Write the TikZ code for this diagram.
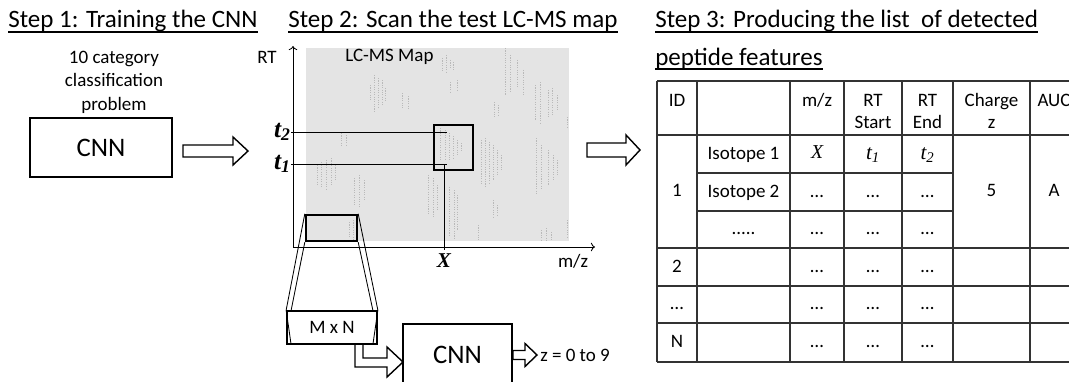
\documentclass[tikz,border=0pt]{standalone}
\usepackage{fontspec}
\setmainfont{Carlito}
\newfontfamily\serifit{Liberation Serif}
\usepackage{tikz}
\usetikzlibrary{arrows.meta, positioning, calc}

\definecolor{mapgray}{RGB}{228,228,228}
\tikzset{
  steptitle/.style={anchor=base west, inner sep=0pt, font=\fontsize{17.8}{21}\selectfont},
  uline/.style={line width=1.1pt},
  lbl/.style={inner sep=0pt, font=\fontsize{13.5}{16.7}\selectfont},
  cell/.style={anchor=base, inner sep=0pt, font=\fontsize{13.5}{16}\selectfont},
  netbox/.style={draw, line width=1.2pt, inner sep=0pt, font=\fontsize{19}{22}\selectfont},
  window/.style={draw, line width=1.7pt, inner sep=0pt},
  hollow/.style={draw, line width=1pt, fill=white, line join=miter},
  streak/.style={gray!55, line width=0.45pt, dash pattern=on 0.8pt off 0.9pt},
  grid/.style={line width=0.8pt, black!80},
  marker/.style={line width=0.6pt},
  tlabel/.style={inner sep=0pt, font=\serifit\fontsize{18}{20}\selectfont\bfseries\itshape},
}

% block arrow: start, tip, shaft half width, head half width, head length
\newcommand{\blockarrow}[5]{%
  \draw[hollow] ($(#1)+(0,#3)$) -- ($(#2)+(-#5,#3)$) -- ($(#2)+(-#5,#4)$) -- (#2)
    -- ($(#2)+(-#5,-#4)$) -- ($(#2)+(-#5,-#3)$) -- ($(#1)+(0,-#3)$) -- cycle;}

\begin{document}
\begin{tikzpicture}[x=0.025cm, y=-0.025cm]
  \useasboundingbox (0,0) rectangle (1069,381);
  \clip (0,0) rectangle (1069,381);

  % --- Step 1 ---
  \node[steptitle] (step1) at (8,28) {Step 1: Training the CNN};
  \draw[uline] ($(step1.base west)+(0,4)$) -- ($(step1.base east)+(0,4)$);
  \node[lbl, align=center] (problem) at (114,82) {10 category\\classification\\problem};
  \node[netbox, minimum width=3.55cm, minimum height=1.475cm] (cnn) at (101,147.5) {CNN};
  \coordinate (a1s) at (183,151);
  \coordinate (a1e) at (248,151);
  \blockarrow{a1s}{a1e}{6}{14}{15}

  % --- Step 2 ---
  \node[steptitle] (step2) at (288,28) {Step 2: Scan the test LC-MS map};
  \draw[uline] ($(step2.base west)+(0,4)$) -- ($(step2.base east)+(0,4)$);
  \fill[mapgray] (306,48) rectangle (569,241);
  % peaks on the map
  \foreach \x/\ya/\yb in {370/85/100, 374/75/112, 378/78/108, 382/80/105, 385/88/100,
      402/93/108, 408/96/110, 442/58/70, 446/55/72, 450/60/68, 453/62/70,
      450/82/92, 457/80/90, 505/48/95, 510/55/92, 517/60/88, 523/70/95,
      535/85/120, 540/82/125, 548/90/118, 552/88/115, 557/95/110, 567/117/128,
      440/128/160, 445/130/160, 449/133/160, 453/136/158, 457/140/155, 461/143/152,
      481/140/185, 485/138/188, 489/142/183, 493/145/180, 497/150/175, 501/155/170,
      536/138/195, 541/145/190, 548/150/185, 553/155/180, 557/160/175,
      428/175/215, 433/178/218, 437/185/210, 449/187/235, 454/190/238, 457/195/230,
      317/165/185, 321/162/188, 326/160/190, 331/158/186, 335/165/180,
      341/133/147, 346/135/145, 354/178/205, 359/175/208, 364/180/200,
      493/200/217, 497/205/215, 541/230/240, 546/228/240, 551/232/240,
      567/220/237, 349/222/238, 353/220/240, 494/102/117, 498/105/115, 478/225/240}
    \draw[streak] (\x,\ya) -- (\x,\yb);
  \node[lbl, anchor=west] (mapname) at (345,57) {LC-MS Map};

  % axes
  \coordinate (origin) at (293,247);
  \draw[marker, ->] (origin) -- (293,46) coordinate (rtend);
  \draw[marker, ->] (origin) -- (595,247) coordinate (mzend);
  \node[lbl] (rt) at (267,57) {RT};
  \node[lbl] (mz) at (573,261) {m/z};

  % detected feature
  \node[window, minimum width=0.975cm, minimum height=1.125cm] (peak) at (453.5,147.5) {};
  \coordinate (hit2) at (447,132);
  \coordinate (hit1) at (447,164);
  \coordinate (hitx) at (444,164);
  \node[tlabel, anchor=east] (t2) at (291,132) {t\textsubscript{2}};
  \node[tlabel, anchor=east] (t1) at (291,164) {t\textsubscript{1}};
  \node[tlabel, anchor=north, font=\serifit\fontsize{15}{18}\selectfont\bfseries\itshape] (xlbl) at (444,253) {X};
  \draw[marker] (t2.east) -- (hit2);
  \draw[marker] (t1.east) -- (hit1);
  \draw[marker] (hitx) -- ($(xlbl.north)+(0,-3)$);

  % scan window and M x N patch
  \node[window, minimum width=1.275cm, minimum height=0.65cm] (win) at (331.5,228) {};
  \node[draw, line width=1.2pt, fill=white, minimum width=2.25cm, minimum height=0.825cm, lbl] (mxn) at (332,327.5) {M x N};
  \draw[marker] (win.north west) -- (mxn.north west) -- ($(mxn.south west)+(5,0)$);
  \draw[marker] (win.south west) -- ($(mxn.north west)+(5,0)$);
  \draw[marker] (win.north east) -- (mxn.north east) -- ($(mxn.south east)+(-5,0)$);
  \draw[marker] (win.south east) -- ($(mxn.north east)+(-5,0)$);

  % second CNN
  \node[netbox, minimum width=2.725cm, minimum height=1.55cm] (cnn2) at (457.5,355) {CNN};
  \draw[hollow, fill=none] (363,344) -- (363,358) -- (387,358) -- (387,347) -- (403,362)
    -- (387,377) -- (387,367) -- (355,367) -- (355,344);
  \coordinate (a3e) at (537,355);
  \blockarrow{cnn2.east}{a3e}{4.5}{11.5}{12}
  \node[lbl, anchor=west] (zout) at (540,355) {z = 0 to 9};

  % arrow to step 3
  \coordinate (a2s) at (587,150);
  \coordinate (a2e) at (640,150);
  \blockarrow{a2s}{a2e}{7}{15}{14}

  % --- Step 3 ---
  \node[steptitle] (step3) at (655,28) {Step 3: Producing the list\ \ of detected};
  \draw[uline] ($(step3.base west)+(0,4)$) -- ($(step3.base east)+(0,4)$);
  \node[steptitle] (step3b) at (655,65) {peptide features};
  \draw[uline] ($(step3b.base west)+(0,4)$) -- ($(step3b.base east)+(0,4)$);

  % table grid
  \foreach \y in {81,135,248,286,323,362} \draw[grid] (657,\y) -- (1078,\y);
  \foreach \y in {173,211} \draw[grid] (697,\y) -- (953,\y);
  \foreach \x in {657,697,790,844,902,953,1030,1078} \draw[grid] (\x,81) -- (\x,362);

  % header
  \node[cell] (hid) at (677,106) {ID};
  \node[cell] (hmz) at (817,106) {m/z};
  \node[cell] (hrts) at (873,106) {RT};
  \node[cell] (hrtsb) at (873,128) {Start};
  \node[cell] (hrte) at (927.5,106) {RT};
  \node[cell] (hrteb) at (927.5,128) {End};
  \node[cell] (hch) at (991.5,106) {Charge};
  \node[cell] (hchb) at (991.5,128) {z};
  \node[cell] (hauc) at (1054,106) {AUC};

  % feature 1
  \node[cell] (id1) at (677,196) {1};
  \node[cell] (iso1) at (743.5,159) {Isotope 1};
  \node[cell, font=\serifit\fontsize{14}{16}\selectfont\itshape] (mz1) at (817,158) {X};
  \node[cell, font=\serifit\fontsize{15}{16}\selectfont\itshape] (rts1) at (873,159) {t\textsubscript{1}};
  \node[cell, font=\serifit\fontsize{15}{16}\selectfont\itshape] (rte1) at (927.5,159) {t\textsubscript{2}};
  \node[cell] (iso2) at (743.5,197) {Isotope 2};
  \node[cell] (iso3) at (743.5,234.5) {.....};
  \node[cell] (ch1) at (991.5,196) {5};
  \node[cell] (auc1) at (1054,196) {A};

  % other features
  \node[cell] (id2) at (677,272) {2};
  \node[cell] (id3) at (677,309.5) {…};
  \node[cell] (idn) at (677,347.5) {N};
  \foreach \r/\y in {b/197, c/234.5, d/272, e/309.5, f/347.5}
    \foreach \c/\x in {3/817, 4/873, 5/927.5}
      \node[cell] (c\r\c) at (\x,\y) {…};
\end{tikzpicture}
\end{document}
